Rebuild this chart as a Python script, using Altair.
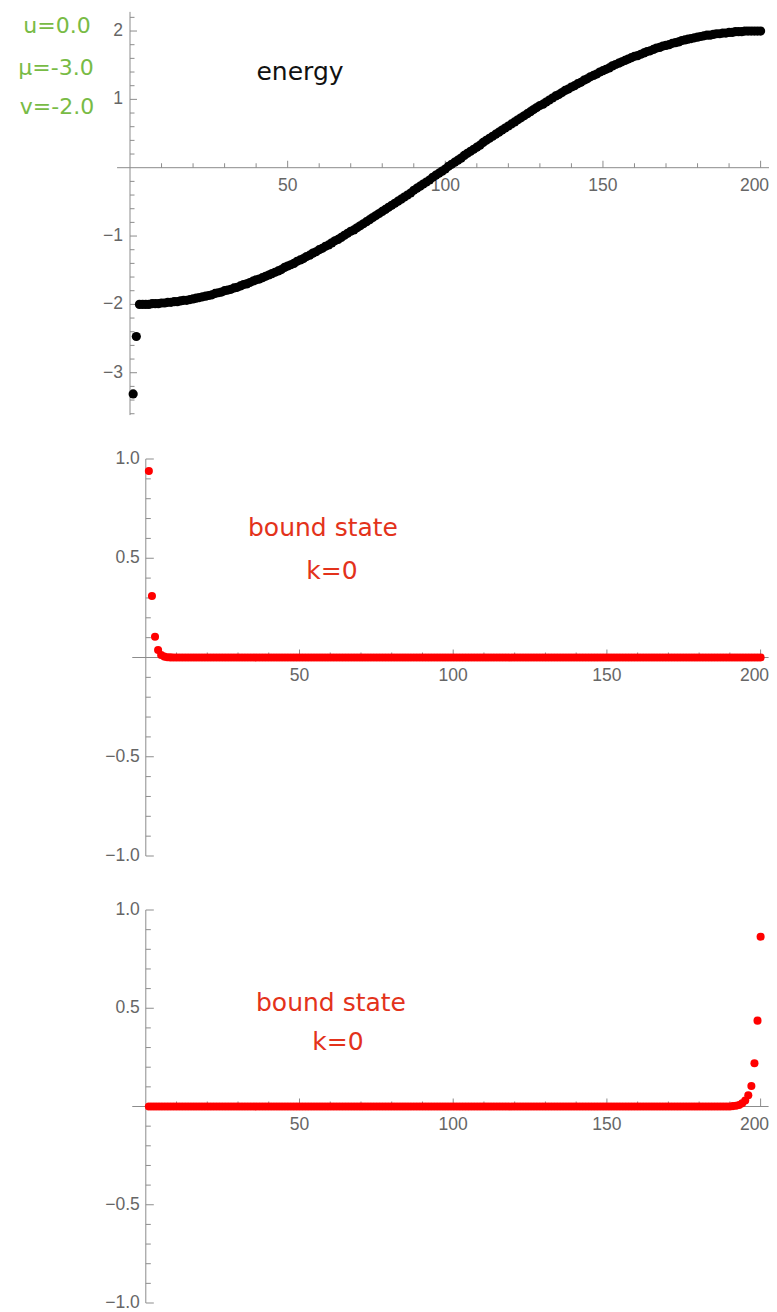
import altair as alt
import pandas as pd

# ---------------- data ----------------
site = list(range(1, 201))

energy_bound = [-3.31, -2.47]
energy_band = [
    -2.00, -2.00, -2.00, -2.00, -1.99, -1.99, -1.99, -1.98, -1.98, -1.97,
    -1.97, -1.96, -1.96, -1.95, -1.94, -1.94, -1.93, -1.92, -1.91, -1.90,
    -1.89, -1.88, -1.87, -1.86, -1.84, -1.83, -1.82, -1.80, -1.79, -1.78,
    -1.76, -1.75, -1.73, -1.71, -1.70, -1.68, -1.66, -1.64, -1.63, -1.61,
    -1.59, -1.57, -1.55, -1.53, -1.51, -1.49, -1.46, -1.44, -1.42, -1.40,
    -1.37, -1.35, -1.33, -1.30, -1.28, -1.25, -1.23, -1.20, -1.18, -1.15,
    -1.13, -1.10, -1.07, -1.05, -1.02, -0.99, -0.96, -0.93, -0.91, -0.88,
    -0.85, -0.82, -0.79, -0.76, -0.73, -0.70, -0.67, -0.64, -0.61, -0.58,
    -0.55, -0.52, -0.49, -0.46, -0.43, -0.40, -0.37, -0.33, -0.30, -0.27,
    -0.24, -0.21, -0.18, -0.14, -0.11, -0.08, -0.05, -0.02,
    0.02, 0.05, 0.08, 0.11, 0.14, 0.18, 0.21, 0.24, 0.27, 0.30,
    0.33, 0.37, 0.40, 0.43, 0.46, 0.49, 0.52, 0.55, 0.58, 0.61,
    0.64, 0.67, 0.70, 0.73, 0.76, 0.79, 0.82, 0.85, 0.88, 0.91,
    0.93, 0.96, 0.99, 1.02, 1.05, 1.07, 1.10, 1.13, 1.15, 1.18,
    1.20, 1.23, 1.25, 1.28, 1.30, 1.33, 1.35, 1.37, 1.40, 1.42,
    1.44, 1.46, 1.49, 1.51, 1.53, 1.55, 1.57, 1.59, 1.61, 1.63,
    1.64, 1.66, 1.68, 1.70, 1.71, 1.73, 1.75, 1.76, 1.78, 1.79,
    1.80, 1.82, 1.83, 1.84, 1.86, 1.87, 1.88, 1.89, 1.90, 1.91,
    1.92, 1.93, 1.94, 1.94, 1.95, 1.96, 1.96, 1.97, 1.97, 1.98,
    1.98, 1.99, 1.99, 1.99, 2.00, 2.00, 2.00, 2.00, 2.00,
    2.00,
]
energy = energy_bound + energy_band

bound_left = [0.94, 0.31, 0.105, 0.038, 0.013, 0.0045, 0.0015, 0.0005] + [0.0] * 192
bound_right = [0.0] * 190 + [0.002, 0.004, 0.008, 0.016, 0.03, 0.057, 0.104, 0.22, 0.437, 0.864]

# ticks
x_major = [50, 100, 150]
x_major_labels = ["50", "100", "150"]
x_last = [200]
x_last_labels = ["200"]
x_minor = [10, 20, 30, 40, 60, 70, 80, 90, 110, 120, 130, 140, 160, 170, 180, 190]

e_y_major = [-3, -2, -1, 1, 2]
e_y_major_labels = ["\u22123", "\u22122", "\u22121", "1", "2"]
e_y_minor = [-3.6, -3.4, -3.2, -2.8, -2.6, -2.4, -2.2, -1.8, -1.6, -1.4, -1.2,
             -0.8, -0.6, -0.4, -0.2, 0.2, 0.4, 0.6, 0.8, 1.2, 1.4, 1.6, 1.8, 2.2]

b_y_major = [-1.0, -0.5, 0.5, 1.0]
b_y_major_labels = ["\u22121.0", "\u22120.5", "0.5", "1.0"]
b_y_minor = [-0.9, -0.8, -0.7, -0.6, -0.4, -0.3, -0.2, -0.1,
             0.1, 0.2, 0.3, 0.4, 0.6, 0.7, 0.8, 0.9]

# ---------------- layout ----------------
W, H = 761, 1304
AX = "#8c8c8c"
LBL = "#666666"
LFONT = "Liberation Sans"
HFONT = "DejaVu Sans"
LSIZE = 17.5


def dom_x(x0_page, ppu):
    o = x0_page - 8
    return [-o / ppu, (W - o) / ppu]


def dom_y(y0_page, ppu):
    o = y0_page - 8
    return [-(H - o) / ppu, o / ppu]


def panel(xdom, ydom, ks, vals, color, size, xext, yext,
          ymaj, ymaj_lab, ymin, maj_len, min_len, lab_dx):
    def X(f):
        return alt.X(f, scale=alt.Scale(domain=xdom, nice=False, zero=False), axis=None)

    def Y(f):
        return alt.Y(f, scale=alt.Scale(domain=ydom, nice=False, zero=False), axis=None)

    layers = []
    # axis lines
    layers.append(alt.Chart(pd.DataFrame({"a": [xext[0]], "b": [xext[1]], "z": [0]}))
                  .mark_rule(color=AX, strokeWidth=1)
                  .encode(x=X("a:Q"), x2="b:Q", y=Y("z:Q")))
    layers.append(alt.Chart(pd.DataFrame({"a": [yext[0]], "b": [yext[1]], "z": [0]}))
                  .mark_rule(color=AX, strokeWidth=1)
                  .encode(y=Y("a:Q"), y2="b:Q", x=X("z:Q")))
    # x ticks
    layers.append(alt.Chart(pd.DataFrame({"t": x_major + x_last, "z": 0}))
                  .mark_tick(orient="vertical", size=maj_len, thickness=1,
                             yOffset=-maj_len / 2, color=AX, opacity=1)
                  .encode(x=X("t:Q"), y=Y("z:Q")))
    layers.append(alt.Chart(pd.DataFrame({"t": x_minor, "z": 0}))
                  .mark_tick(orient="vertical", size=min_len, thickness=1,
                             yOffset=-min_len / 2, color=AX, opacity=1)
                  .encode(x=X("t:Q"), y=Y("z:Q")))
    # y ticks
    layers.append(alt.Chart(pd.DataFrame({"t": ymaj, "z": 0}))
                  .mark_tick(orient="horizontal", size=maj_len, thickness=1,
                             xOffset=maj_len / 2, color=AX, opacity=1)
                  .encode(y=Y("t:Q"), x=X("z:Q")))
    layers.append(alt.Chart(pd.DataFrame({"t": ymin, "z": 0}))
                  .mark_tick(orient="horizontal", size=min_len, thickness=1,
                             xOffset=min_len / 2, color=AX, opacity=1)
                  .encode(y=Y("t:Q"), x=X("z:Q")))
    # labels
    layers.append(alt.Chart(pd.DataFrame({"t": x_major, "lab": x_major_labels, "z": 0}))
                  .mark_text(align="center", baseline="middle", dy=18,
                             font=LFONT, fontSize=LSIZE, color=LBL)
                  .encode(x=X("t:Q"), y=Y("z:Q"), text="lab:N"))
    # last label nudged so that it stays inside the page
    layers.append(alt.Chart(pd.DataFrame({"t": x_last, "lab": x_last_labels, "z": 0}))
                  .mark_text(align="right", baseline="middle", dy=18, dx=8.5,
                             font=LFONT, fontSize=LSIZE, color=LBL)
                  .encode(x=X("t:Q"), y=Y("z:Q"), text="lab:N"))
    layers.append(alt.Chart(pd.DataFrame({"t": ymaj, "lab": ymaj_lab, "z": 0}))
                  .mark_text(align="right", baseline="middle", dx=lab_dx,
                             font=LFONT, fontSize=LSIZE, color=LBL)
                  .encode(y=Y("t:Q"), x=X("z:Q"), text="lab:N"))
    # data points
    layers.append(alt.Chart(pd.DataFrame({"k": ks, "v": vals}))
                  .mark_circle(size=size, color=color, opacity=1)
                  .encode(x=X("k:Q"), y=Y("v:Q")))
    return layers


def note(text, px, py, color, size):
    return (alt.Chart(pd.DataFrame({"t": [text]}))
            .mark_text(align="center", baseline="middle", font=HFONT,
                       fontSize=size, color=color)
            .encode(x=alt.value(px), y=alt.value(py), text="t:N"))


GREEN = "#78bb45"
RED_TXT = "#e3321b"

p1 = panel(dom_x(130.0, 3.153), dom_y(167.7, 68.34), site, energy, "#000000", 85,
           [-4.1, 203.8], [-3.62, 2.28], e_y_major, e_y_major_labels, e_y_minor,
           7, 4.5, -7)
p2 = panel(dom_x(145.8, 3.074), dom_y(657.5, 198.5), site, bound_left, "#ff0000", 65,
           [-4.4, 202.6], [-1.0, 1.0], b_y_major, b_y_major_labels, b_y_minor,
           8, 5, -6)
p3 = panel(dom_x(145.8, 3.074), dom_y(1106.5, 196.5), site, bound_right, "#ff0000", 65,
           [-4.4, 202.6], [-1.0, 1.0], b_y_major, b_y_major_labels, b_y_minor,
           8, 5, -6)

notes = [
    note("u=0.0", 49, 18, GREEN, 22),
    note("\u03bc=-3.0", 48, 60, GREEN, 22),
    note("v=-2.0", 49, 99, GREEN, 22),
    note("energy", 292, 64, "#111111", 25),
    note("bound state", 315, 520, RED_TXT, 25),
    note("k=0", 324, 563, RED_TXT, 25),
    note("bound state", 323, 995, RED_TXT, 25),
    note("k=0", 330, 1034, RED_TXT, 25),
]

chart = (
    alt.layer(alt.layer(*p1), alt.layer(*p2), alt.layer(*p3), *notes)
    .resolve_scale(x="independent", y="independent")
    .properties(width=W, height=H, autosize=alt.AutoSizeParams(type="none"),
                padding={"left": 0, "top": 0, "right": 0, "bottom": 0},
                background="white")
    .configure_view(stroke=None)
)

chart.save("out.html", embed_options={"renderer": "svg", "actions": False})
